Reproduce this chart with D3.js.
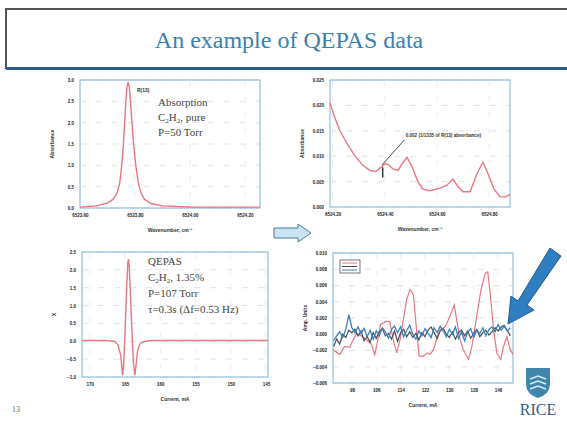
<!DOCTYPE html>
<html>
<head>
<meta charset="utf-8">
<script src="https://cdn.jsdelivr.net/npm/d3@7"></script>
<style>
  body { margin: 0; background: #fff; }
  svg { display: block; }
  .tick text { font-family: Arial, sans-serif; font-size: 4.5px; font-weight: bold; fill: #222; }
  .domain { display: none; }
  .note { font-family: "Liberation Serif", serif; font-size: 11px; fill: #444; }
  .axlabel { font-family: Arial, sans-serif; font-size: 5px; font-weight: bold; fill: #333; }
</style>
</head>
<body>
<svg id="slide" width="567" height="425"></svg>
<script>
// top-left: absorption line
const absWave = [6523.60, 6523.66, 6523.70, 6523.72, 6523.735, 6523.745, 6523.752, 6523.758, 6523.765, 6523.77, 6523.775,
  6523.78, 6523.787, 6523.795, 6523.803, 6523.812, 6523.822, 6523.835, 6523.86, 6523.90, 6524.00, 6524.255];
const absValue = [0.02, 0.05, 0.12, 0.2, 0.35, 0.6, 1.0, 1.5, 2.3, 2.8, 2.95,
  2.8, 2.2, 1.5, 1.0, 0.6, 0.35, 0.2, 0.1, 0.05, 0.025, 0.02];
const absXTicks = [6523.6, 6523.8, 6524.0, 6524.2];
const absYTicks = [0, 0.5, 1.0, 1.5, 2.0, 2.5, 3.0];

// top-right: zoom on weak lines
const weakWave = [6524.190, 6524.209, 6524.228, 6524.255, 6524.286, 6524.316, 6524.343, 6524.366, 6524.385, 6524.401, 6524.416,
  6524.431, 6524.451, 6524.466, 6524.485, 6524.504, 6524.527, 6524.546, 6524.573, 6524.612, 6524.638, 6524.661,
  6524.681, 6524.700, 6524.727, 6524.753, 6524.776, 6524.796, 6524.819, 6524.842, 6524.865, 6524.880];
const weakValue = [0.0205, 0.0175, 0.0150, 0.0125, 0.0100, 0.0082, 0.0072, 0.0070, 0.0078, 0.0085, 0.0083,
  0.0075, 0.0072, 0.0085, 0.0098, 0.0080, 0.0050, 0.0035, 0.0032, 0.0037, 0.0043, 0.0055,
  0.0040, 0.0030, 0.0030, 0.0065, 0.0088, 0.0065, 0.0035, 0.0020, 0.0020, 0.0025];
const weakXTicks = [6524.2, 6524.4, 6524.6, 6524.8];
const weakYTicks = [0, 0.005, 0.010, 0.015, 0.020, 0.025];

// bottom-left: QEPAS 2f signal
const qCurrent = [171.1, 168, 166.5, 166, 165.6, 165.35, 165.2, 165.0, 164.8, 164.6, 164.5,
  164.4, 164.2, 164.0, 163.8, 163.6, 163.45, 163.2, 162.9, 162.5, 161.5, 144.7];
const qSignal = [0.02, 0.02, 0.0, -0.1, -0.4, -0.95, -0.7, 0.2, 1.3, 2.2, 2.3,
  2.1, 1.2, 0.2, -0.6, -0.95, -0.7, -0.25, -0.08, -0.02, 0.02, 0.02];
const qXTicks = [170, 165, 160, 155, 150, 145];
const qYTicks = [-1.0, -0.5, 0, 0.5, 1.0, 1.5, 2.0, 2.5];

// bottom-right: weak line scans
const redCurrent = [91.8, 94.0, 95.6, 97.3, 98.4, 99.5, 101.1, 102.8, 104.4, 105.5, 106.3, 107.4, 109.4, 110.5, 111.6,
  112.7, 113.8, 114.9, 116.0, 117.1, 118.2, 119.3, 120.1, 121.5, 122.6, 123.7, 124.8, 125.9, 127.0, 128.6,
  129.7, 130.8, 131.6, 132.4, 133.5, 134.6, 136.3, 137.4, 139.0, 140.4, 141.8, 142.6, 143.4, 144.5, 145.6,
  146.9, 147.8, 148.9, 150.0, 150.9];
const redSignal = [-0.0019, -0.0025, -0.0015, -0.0016, -0.0007, 0.0001, -0.0002, -0.0007, -0.0012, -0.0025, -0.0011,
  0.0012, 0.0016, 0.0015, -0.0007, -0.0023, -0.0007, 0.0018, 0.0043, 0.0055, 0.0049, 0.0002, -0.0027, -0.0027,
  -0.0023, -0.0025, -0.0019, -0.0005, 0.0006, 0.0009, 0.0018, 0.0028, 0.0036, 0.0018, -0.0007, -0.0019, -0.0031,
  -0.0015, 0.0022, 0.0055, 0.0075, 0.0077, 0.0051, 0.0006, -0.0023, -0.0031, -0.0015, -0.0003, -0.0019, -0.0025];
const noiseCurrent = d3.range(92, 151);
const blueSignal = [-0.8, -0.2, 0.3, -0.4, 0.6, 2.4, 0.8, 0.2, 0.9, 0.1, 0.7, -0.3, 0.5, -0.6, 0.4, -0.2, 0.8, 0.3, -0.5,
  0.6, 1.0, 0.2, 0.9, -0.3, 0.5, 1.1, 0.0, -0.6, 0.4, -0.2, 0.7, 0.1, -0.4, 0.8, 0.2, 1.0, 0.4, -0.3, 0.6, 0.0,
  0.9, -0.5, 0.3, -0.8, 0.2, 0.7, -0.4, 0.5, 0.1, 0.8, -0.2, 0.6, 0.9, 0.3, 1.2, 0.5, 1.0, 0.4, 0.8];
const graySignal = [-1.5, -0.6, -1.2, 0.0, -0.4, 0.5, 0.2, 0.6, -0.2, 0.4, -0.8, -0.3, -1.0, 0.2, -0.5, 0.3, 0.7, -0.2, 0.1,
  -0.6, 0.4, -0.9, 0.2, 0.6, -0.3, 0.3, -0.4, 0.1, -0.7, 0.2, -0.3, 0.5, 0.9, 0.2, -0.5, 0.4, 0.7, 0.0, -0.4, 0.3,
  -0.6, 0.2, 0.5, -0.2, 0.4, -0.5, 0.1, 0.6, -0.3, 0.2, 0.5, -0.1, 0.3, 0.8, 0.4, 0.9, 1.1, 0.5, -0.2];
const scanXTicks = [98, 106, 114, 122, 130, 138, 146];
const scanYTicks = [-0.006, -0.004, -0.002, 0, 0.002, 0.004, 0.006, 0.008, 0.010];

const svg = d3.select('#slide');

// title bar
svg.append('rect').attr('x', 6).attr('y', 9).attr('width', 570).attr('height', 59)
  .attr('fill', '#fff').attr('stroke', '#555').attr('stroke-width', 2);
svg.append('line').attr('x1', 6).attr('x2', 567).attr('y1', 68.5).attr('y2', 68.5)
  .attr('stroke', '#2a5d88').attr('stroke-width', 3);
svg.append('text').attr('x', 289).attr('y', 48).attr('text-anchor', 'middle')
  .attr('font-family', '"Liberation Serif", serif').attr('font-size', 24).attr('fill', '#3a82ad')
  .text('An example of QEPAS data');

const panel = (o) => {
  const g = svg.append('g');
  const x = d3.scaleLinear().domain(o.xDomain).range([o.left, o.right]);
  const y = d3.scaleLinear().domain(o.yDomain).range([o.bottom, o.top]);

  // dashed grid
  g.selectAll('.hg').data(o.yTicks).enter().append('line')
    .attr('x1', o.left).attr('x2', o.right).attr('y1', d => y(d)).attr('y2', d => y(d))
    .attr('stroke', '#d8dde2').attr('stroke-width', 0.8).attr('stroke-dasharray', '6,10');
  g.selectAll('.vg').data(o.xTicks).enter().append('line')
    .attr('y1', o.top).attr('y2', o.bottom).attr('x1', d => x(d)).attr('x2', d => x(d))
    .attr('stroke', '#e4e8ec').attr('stroke-width', 0.8).attr('stroke-dasharray', '6,10');

  g.append('g').attr('transform', `translate(0,${o.bottom})`)
    .call(d3.axisBottom(x).tickValues(o.xTicks).tickFormat(o.xFormat).tickSize(0).tickPadding(6));
  g.append('g').attr('transform', `translate(${o.left},0)`)
    .call(d3.axisLeft(y).tickValues(o.yTicks).tickFormat(o.yFormat).tickSize(0).tickPadding(6));

  g.append('rect').attr('x', o.left).attr('y', o.top)
    .attr('width', o.right - o.left).attr('height', o.bottom - o.top)
    .attr('fill', 'none').attr('stroke', '#8fc0e0').attr('stroke-width', 1.2);

  o.series.forEach(s => {
    const line = d3.line().x((d, i) => x(s.x[i])).y(d => y(d));
    g.append('path').datum(s.y).attr('d', line)
      .attr('fill', 'none').attr('stroke', s.color).attr('stroke-width', s.width || 1.2);
  });

  g.append('text').attr('class', 'axlabel').attr('x', (o.left + o.right) / 2).attr('y', o.bottom + 24)
    .attr('text-anchor', 'middle').text(o.xLabel);
  g.append('text').attr('class', 'axlabel')
    .attr('transform', `translate(${o.left - 26},${(o.top + o.bottom) / 2}) rotate(-90)`)
    .attr('text-anchor', 'middle').text(o.yLabel);
  return { x, y, g };
};

const p1 = panel({
  left: 80, right: 260, top: 80, bottom: 208,
  xDomain: [6523.6, 6524.255], yDomain: [0, 3.0],
  xTicks: absXTicks, yTicks: absYTicks,
  xFormat: d3.format('.2f'), yFormat: d3.format('.1f'),
  xLabel: 'Wavenumber, cm\u207B\u00B9', yLabel: 'Absorbance',
  series: [{ x: absWave, y: absValue, color: '#e87780', width: 1.4 }]
});
p1.g.append('text').attr('x', 137).attr('y', 92).attr('font-family', 'Arial').attr('font-size', 5)
  .attr('font-weight', 'bold').attr('fill', '#333').text('R(13)');
const absNote = p1.g.append('text').attr('class', 'note');
absNote.append('tspan').attr('x', 158).attr('y', 106).text('Absorption');
const c2 = absNote.append('tspan').attr('x', 158).attr('y', 121);
c2.append('tspan').text('C');
c2.append('tspan').attr('font-size', 7).attr('dy', 2).text('2');
c2.append('tspan').attr('dy', -2).text('H');
c2.append('tspan').attr('font-size', 7).attr('dy', 2).text('2');
c2.append('tspan').attr('dy', -2).text(', pure');
absNote.append('tspan').attr('x', 158).attr('y', 136).text('P=50 Torr');

const p2 = panel({
  left: 330, right: 510, top: 80, bottom: 207,
  xDomain: [6524.19, 6524.88], yDomain: [0, 0.025],
  xTicks: weakXTicks, yTicks: weakYTicks,
  xFormat: d3.format('.2f'), yFormat: d3.format('.3f'),
  xLabel: 'Wavenumber, cm\u207B\u00B9', yLabel: 'Absorbance',
  series: [{ x: weakWave, y: weakValue, color: '#e87780', width: 1.4 }]
});
p2.g.append('line').attr('x1', p2.x(6524.39)).attr('y1', p2.y(0.0083))
  .attr('x2', p2.x(6524.475)).attr('y2', p2.y(0.0132)).attr('stroke', '#333').attr('stroke-width', 0.9);
p2.g.append('line').attr('x1', p2.x(6524.392)).attr('x2', p2.x(6524.392))
  .attr('y1', p2.y(0.0078)).attr('y2', p2.y(0.0058)).attr('stroke', '#333').attr('stroke-width', 1.5);
p2.g.append('text').attr('x', p2.x(6524.48)).attr('y', p2.y(0.0137)).attr('font-family', 'Arial')
  .attr('font-size', 4.6).attr('font-weight', 'bold').attr('fill', '#333')
  .text('0.002 (1/1335 of R(13) absorbance)');

const p3 = panel({
  left: 82, right: 268, top: 252, bottom: 377,
  xDomain: [171.1, 144.7], yDomain: [-1.0, 2.5],
  xTicks: qXTicks, yTicks: qYTicks,
  xFormat: d3.format('d'), yFormat: d3.format('.1f'),
  xLabel: 'Current, mA', yLabel: 'X',
  series: [{ x: qCurrent, y: qSignal, color: '#e87780', width: 1.4 }]
});
const qNote = p3.g.append('text').attr('class', 'note');
qNote.append('tspan').attr('x', 148).attr('y', 265).text('QEPAS');
const c3 = qNote.append('tspan').attr('x', 148).attr('y', 281);
c3.append('tspan').text('C');
c3.append('tspan').attr('font-size', 7).attr('dy', 2).text('2');
c3.append('tspan').attr('dy', -2).text('H');
c3.append('tspan').attr('font-size', 7).attr('dy', 2).text('2');
c3.append('tspan').attr('dy', -2).text(', 1.35%');
qNote.append('tspan').attr('x', 148).attr('y', 297).text('P=107 Torr');
qNote.append('tspan').attr('x', 148).attr('y', 313).text('\u03C4=0.3s (\u0394f=0.53 Hz)');

const p4 = panel({
  left: 333, right: 513, top: 253, bottom: 383,
  xDomain: [91.8, 150.9], yDomain: [-0.006, 0.010],
  xTicks: scanXTicks, yTicks: scanYTicks,
  xFormat: d3.format('d'), yFormat: d3.format('.3f'),
  xLabel: 'Current, mA', yLabel: 'Amp. Units',
  series: [
    { x: redCurrent, y: redSignal, color: '#e87780', width: 1.2 },
    { x: noiseCurrent, y: graySignal.map(v => v / 1000), color: '#4a4f56', width: 1.2 },
    { x: noiseCurrent, y: blueSignal.map(v => v / 1000), color: '#3c80c0', width: 1.3 }
  ]
});
// small legend box
const lg = p4.g.append('g');
lg.append('rect').attr('x', 340).attr('y', 260).attr('width', 20).attr('height', 13)
  .attr('fill', '#fff').attr('stroke', '#555').attr('stroke-width', 0.8);
['#e87780', '#4a4f56', '#3c80c0'].forEach((c, i) => {
  lg.append('line').attr('x1', 342).attr('x2', 357).attr('y1', 263 + i * 3.5).attr('y2', 263 + i * 3.5)
    .attr('stroke', c).attr('stroke-width', 1);
});

// hollow arrow between panels
svg.append('path')
  .attr('d', 'M274,228 L298,228 L298,224 L311,233 L298,242 L298,238 L274,238 Z')
  .attr('fill', '#c9e4f2').attr('stroke', '#4a7a98').attr('stroke-width', 1);

// big blue arrow pointing at the noise
svg.append('path')
  .attr('d', 'M550,248 L561,256 L527,305 L534,310 L508,324 L511,296 L518,301 Z')
  .attr('fill', '#2f7fc0').attr('stroke', '#1f5e94').attr('stroke-width', 1);

// slide number
svg.append('text').attr('x', 12).attr('y', 412).attr('font-family', '"Liberation Serif", serif')
  .attr('font-size', 8).attr('fill', '#666').text('13');

// RICE logo
const logo = svg.append('g');
logo.append('path').attr('d', 'M526,368 L550,368 L550,384 Q550,394 538,398 Q526,394 526,384 Z')
  .attr('fill', '#3f86aa');
[376, 381, 386].forEach(yy => {
  logo.append('path').attr('d', `M530,${yy + 3} L538,${yy} L546,${yy + 3}`)
    .attr('fill', 'none').attr('stroke', '#d8ecf5').attr('stroke-width', 1.4);
});
logo.append('text').attr('x', 538).attr('y', 415).attr('text-anchor', 'middle')
  .attr('font-family', '"Liberation Serif", serif').attr('font-size', 16).attr('fill', '#2e5f86')
  .text('RICE');
</script>
</body>
</html>
